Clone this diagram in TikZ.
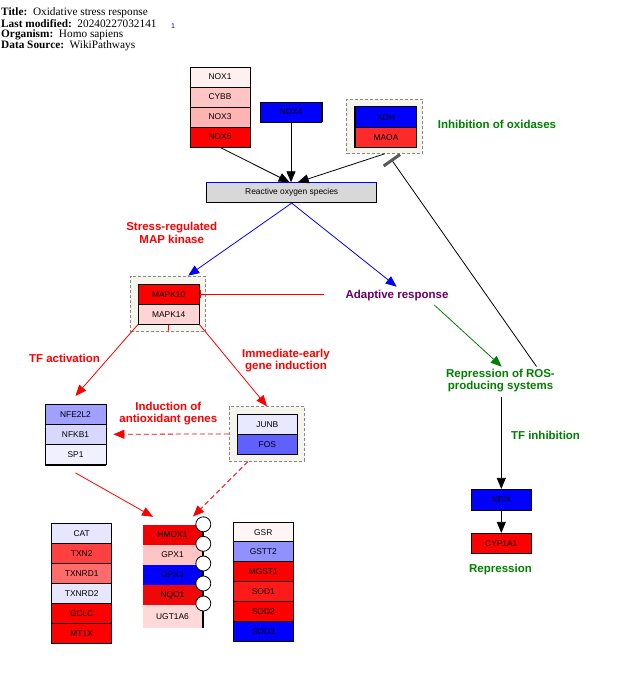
\documentclass[tikz,border=0pt]{standalone}
\usepackage{fontspec}
\setmainfont{Liberation Serif}
\newfontfamily\arialfont{Liberation Sans}
\usetikzlibrary{arrows.meta}
\definecolor{cream}{HTML}{F5F5EE}
\definecolor{grpline}{HTML}{888888}
\definecolor{lblred}{HTML}{FF0000}
\definecolor{lblgreen}{HTML}{008000}
\definecolor{lblpurple}{HTML}{660066}
\definecolor{cNOXa}{HTML}{FFF0F0}
\definecolor{cCYBB}{HTML}{FFC4C4}
\definecolor{cNOXc}{HTML}{FFB4B4}
\definecolor{cRed}{HTML}{FF0000}
\definecolor{cBlue}{HTML}{0000FF}
\definecolor{cMAOA}{HTML}{FF2B2B}
\definecolor{cROS}{HTML}{D8D8D8}
\definecolor{cMAPKb}{HTML}{FFD4D4}
\definecolor{cNFE}{HTML}{A0A0FF}
\definecolor{cNFKB}{HTML}{D8D8FF}
\definecolor{cSP}{HTML}{F0F0FF}
\definecolor{cJUNB}{HTML}{E8E8FF}
\definecolor{cFOS}{HTML}{6060FF}
\definecolor{cCAT}{HTML}{E6E6FF}
\definecolor{cTXN}{HTML}{FF4040}
\definecolor{cTXNR}{HTML}{FF6A6A}
\definecolor{cHMOX}{HTML}{F00000}
\definecolor{cGPX}{HTML}{FFC4C4}
\definecolor{cNQO}{HTML}{F00808}
\definecolor{cUGT}{HTML}{FFD8D8}
\definecolor{cGSR}{HTML}{FFF5F5}
\definecolor{cGSTT}{HTML}{9090FF}
\definecolor{cSOD}{HTML}{FF1A1A}
\definecolor{cOne}{HTML}{0000C0}
\begin{document}
\begin{tikzpicture}[x=1pt,y=-1pt,
  gene/.style={draw=black, line width=0.8pt, minimum width=60pt, minimum height=20pt,
    inner sep=0pt, font=\arialfont\fontsize{8.4}{9}\selectfont},
  nbgene/.style={minimum width=60pt, minimum height=20pt,
    inner sep=0pt, font=\arialfont\fontsize{8.4}{9}\selectfont},
  grp/.style={draw=grpline, dash pattern=on 3pt off 2pt, fill=cream, line width=0.9pt, inner sep=0pt},
  lbl/.style={font=\arialfont\bfseries\fontsize{11.5}{12.6}\selectfont, align=center, inner sep=1pt},
  hdr/.style={anchor=west, inner sep=0pt, font=\fontsize{11.3}{11.3}\selectfont},
  arr/.style={-{Triangle[length=11pt,width=9pt]}, line width=0.8pt},
  pin/.style={circle, draw=black, fill=white, line width=0.8pt, minimum size=15pt, inner sep=0pt}
]
\useasboundingbox (0,0) rectangle (617,681);
\fill[white] (0,0) rectangle (617,681);

% header
\node[hdr] (h1) at (1,12.3) {\textbf{Title:}\ \ Oxidative stress response};
\node[hdr] (h2) at (1,23.5) {\textbf{Last modified:}\ \ 20240227032141};
\node[inner sep=0pt, text=cOne, font=\arialfont\fontsize{7}{7}\selectfont] (one) at (173,26.5) {1};
\node[hdr] (h3) at (1,34.7) {\textbf{Organism:}\ \ Homo sapiens};
\node[hdr] (h4) at (1,46) {\textbf{Data Source:}\ \ WikiPathways};

% groups
\node[grp, minimum width=76pt, minimum height=54.3pt] (grp1) at (384.7,126.2) {};
\node[grp, minimum width=75pt, minimum height=55.7pt] (grp2) at (168.2,303.9) {};
\node[grp, minimum width=75.4pt, minimum height=54.3pt] (grp3) at (267,433.9) {};

% NOX stack
\node[gene, fill=cNOXa] (nox1) at (220,77) {NOX1};
\node[gene, fill=cCYBB] (cybb) at (220,97) {CYBB};
\node[gene, fill=cNOXc] (nox3) at (220,117) {NOX3};
\node[gene, fill=cRed] (nox5) at (220,137) {NOX5};
\draw[line width=1.6pt] (nox5.south west) -- (nox5.south east) -- (nox1.north east);
\node[gene, fill=cBlue, minimum width=61pt] (nox4) at (291,112) {NOX4};
\draw[line width=1.4pt] (nox4.south east) -- (nox4.north east);

\node[gene, fill=cBlue, minimum width=61.7pt, minimum height=21pt] (xdh) at (386,117.2) {XDH};
\node[gene, fill=cMAOA, minimum width=61.7pt] (maoa) at (386,137.7) {MAOA};
\draw[line width=1.4pt] (maoa.south west) -- (xdh.north west);

\node[gene, fill=cROS, minimum width=170pt] (ros) at (291.7,192.7) {Reactive oxygen species};
\draw[cBlue, line width=1.6pt] (ros.north west) -- (ros.north east);

% MAPK
\node[gene, fill=cRed, minimum width=61pt] (mapk10) at (168.7,294.2) {MAPK10};
\node[gene, fill=cMAPKb, minimum width=61pt] (mapk14) at (168.7,314.3) {MAPK14};

% NFE2L2 stack
\node[gene, fill=cNFE, minimum width=61pt] (nfe2l2) at (75.5,414.3) {NFE2L2};
\node[gene, fill=cNFKB, minimum width=61pt] (nfkb1) at (75.5,434.3) {NFKB1};
\node[gene, fill=cSP, minimum width=61pt] (sp1) at (75.5,454.5) {SP1};
\draw[line width=1.6pt] (sp1.south west) -- (sp1.south east);

% JUNB
\node[gene, fill=cJUNB] (junb) at (267.3,424.3) {JUNB};
\node[gene, fill=cFOS] (fos) at (267.3,444.3) {FOS};

% CAT stack
\node[gene, fill=cCAT] (cat) at (81.7,533.3) {CAT};
\node[gene, fill=cTXN] (txn2) at (81.7,553.3) {TXN2};
\node[gene, fill=cTXNR] (txnrd1) at (81.7,573.3) {TXNRD1};
\node[gene, fill=cCAT] (txnrd2) at (81.7,593.3) {TXNRD2};
\node[gene, fill=cRed] (gclc) at (81.7,613.3) {GCLC};
\node[gene, fill=cRed] (mt1x) at (81.7,633.3) {MT1X};

% HMOX1 stack
\node[nbgene, fill=cHMOX] (hmox1) at (172.5,535) {HMOX1};
\node[nbgene, fill=cGPX] (gpx1) at (172.5,555) {GPX1};
\node[nbgene, fill=cBlue] (gpx3) at (172.5,575) {GPX3};
\node[nbgene, fill=cNQO] (nqo1) at (172.5,595) {NQO1};
\node[nbgene, fill=cUGT, minimum height=23pt] (ugt1a6) at (172.5,616.5) {UGT1A6};
\draw[line width=1.6pt] (hmox1.north east) -- (ugt1a6.south east);
\node[pin] (c1) at (203.3,524.3) {};
\node[pin] (c2) at (203.3,543.8) {};
\node[pin] (c3) at (203.3,563.5) {};
\node[pin] (c4) at (203.3,583.5) {};
\node[pin] (c5) at (203.3,603.5) {};

% GSR stack
\node[gene, fill=cGSR] (gsr) at (263.3,532.5) {GSR};
\node[gene, fill=cGSTT] (gstt2) at (263.3,551.7) {GSTT2};
\node[gene, fill=cRed] (mgst1) at (263.3,571.7) {MGST1};
\node[gene, fill=cSOD] (sod1) at (263.3,591.7) {SOD1};
\node[gene, fill=cRed] (sod2) at (263.3,611.7) {SOD2};
\node[gene, fill=cBlue] (sod3) at (263.3,631.7) {SOD3};

% NFIX / CYP1A1
\node[gene, fill=cBlue, minimum width=60.7pt, minimum height=21.4pt] (nfix) at (501.3,500) {NFIX};
\node[gene, fill=cRed, minimum width=60.7pt] (cyp) at (501.3,543.3) {CYP1A1};

% labels
\node[lbl, text=lblgreen] (inhox) at (497,124.3) {Inhibition of oxidases};
\node[lbl, text=lblred] (stress) at (171.7,233) {Stress-regulated\\MAP kinase};
\node[lbl, text=lblred] (tfact) at (64.5,358.3) {TF activation};
\node[lbl, text=lblred] (imm) at (286,360.4) {Immediate-early\\gene induction};
\node[lbl, text=lblred] (induc) at (168.3,413.4) {Induction of\\antioxidant genes};
\node[lbl, text=lblpurple] (adapt) at (397,295.7) {Adaptive response};
\node[lbl, text=lblgreen] (rep) at (500.5,380.4) {Repression of ROS-\\producing systems};
\node[lbl, text=lblgreen] (tfinh) at (545.5,435.7) {TF inhibition};
\node[lbl, text=lblgreen] (repr) at (500.5,570) {Repression};

% connectors
\draw[arr] (nox5.south) -- ([xshift=-2pt]ros.north);
\draw[arr] (nox4.south) -- (nox4.south |- ros.north);
\draw[arr] (grp1.south) -- ([xshift=6pt]ros.north);

\coordinate (repin) at (536.5,366.5);
\coordinate (tbar) at (391,159);
\draw[line width=0.8pt, -{Bar[width=20pt,line width=3pt,color=gray!70!black]}] (repin) -- (tbar);

\draw[arr, cBlue] (ros.south) -- ([xshift=20pt]grp2.north);
\draw[arr, cBlue] (ros.south) -- (396.7,286.7) coordinate (adin);

\coordinate (adaptL) at (324,294.2);
\draw[lblred, line width=0.8pt, -{Bar[width=8pt,line width=1.2pt]}] (adaptL) -- (mapk10.east);
\draw[lblred, line width=0.8pt] (mapk14.south) -- (grp2.south);

\draw[arr, lblred] (mapk14.south west) -- ([yshift=8pt]nfe2l2.north);
\draw[arr, lblred] (mapk14.south east) -- (grp3.north);
\draw[arr, lblred, dash pattern=on 5pt off 3pt] (grp3.west) -- ([xshift=7pt]nfkb1.east);
\draw[arr, lblred] ([yshift=-8pt]sp1.south) -- ([xshift=-19.5pt,yshift=8pt]hmox1.north);
\draw[arr, lblred, dash pattern=on 5pt off 3pt] ([xshift=-19pt]grp3.south) -- ([xshift=20.5pt,yshift=8.3pt]hmox1.north);

\coordinate (adaptS) at (434.3,305);
\draw[arr, lblgreen] (adaptS) -- (501.7,366.7) coordinate (repN);
\draw[arr] (501.3,396.7) coordinate (repS) -- (nfix.north);
\draw[arr] (nfix.south) -- (cyp.north);
\end{tikzpicture}
\end{document}
